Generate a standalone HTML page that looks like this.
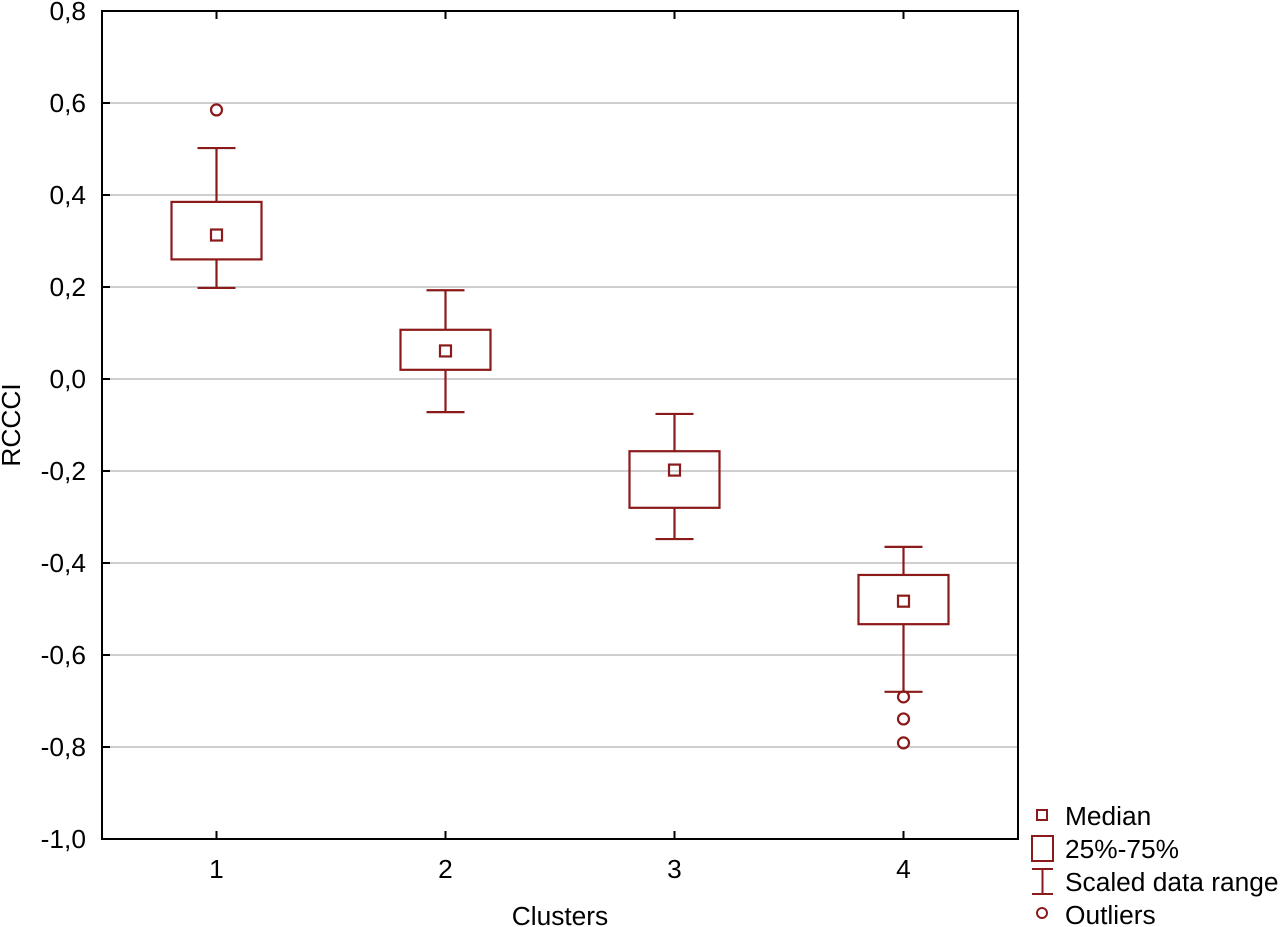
<!DOCTYPE html>
<html><head><meta charset="utf-8"><style>
body{margin:0;background:#fff;}
svg{display:block;font-family:"Liberation Sans",Arial,sans-serif;}
</style></head><body>
<svg id="c" width="1280" height="927" viewBox="0 0 1280 927"></svg>
<script>
const categories=["1","2","3","4"];
const maxVals=[0.502,0.193,-0.076,-0.365];
const q3Vals=[0.385,0.107,-0.157,-0.426];
const medians=[0.313,0.061,-0.198,-0.483];
const q1Vals=[0.26,0.02,-0.28,-0.533];
const minVals=[0.198,-0.072,-0.348,-0.68];
const outliers=[[0.585],[],[],[-0.691,-0.739,-0.791]];
const yTicks=[0.8,0.6,0.4,0.2,0.0,-0.2,-0.4,-0.6,-0.8,-1.0];
const yTickLabels=["0,8","0,6","0,4","0,2","0,0","-0,2","-0,4","-0,6","-0,8","-1,0"];

const L=102,R=1018,T=11,B=839,C="#8b1a1a",FS=26.3;
const ns="http://www.w3.org/2000/svg",svg=document.getElementById('c');
const y=v=>T+(0.8-v)/1.8*(B-T);
const x=i=>L+(i+0.5)*(R-L)/categories.length;
function el(t,a,p){const e=document.createElementNS(ns,t);for(const k in a)e.setAttribute(k,a[k]);(p||svg).appendChild(e);return e;}
yTicks.forEach((v,i)=>{
  if(v<0.8&&v>-1.0){const g=el('line',{x1:L,x2:R,y1:y(v),y2:y(v),stroke:'#cfcfcf','stroke-width':2});
  
  }
  const t=el('line',{x1:L,x2:L+8,y1:y(v),y2:y(v),stroke:'#000','stroke-width':2});
  
  
  const tx=el('text',{x:L-16,y:y(v)+9,'text-anchor':'end','font-size':FS});
  tx.textContent=yTickLabels[i];
  
  
});
categories.forEach((c,i)=>{
  [[B,B-8],[T,T+8]].forEach(p=>{const t=el('line',{x1:x(i),x2:x(i),y1:p[0],y2:p[1],stroke:'#000','stroke-width':2});
  
  });
  const tx=el('text',{x:x(i),y:B+39,'text-anchor':'middle','font-size':FS});
  tx.textContent=c;
  
  
  const g=el('g',{stroke:C,'stroke-width':2.2,fill:'none'});
  
  
  el('line',{x1:x(i),x2:x(i),y1:y(maxVals[i]),y2:y(q3Vals[i])},g);
  el('line',{x1:x(i),x2:x(i),y1:y(q1Vals[i]),y2:y(minVals[i])},g);
  el('line',{x1:x(i)-19,x2:x(i)+19,y1:y(maxVals[i]),y2:y(maxVals[i])},g);
  el('line',{x1:x(i)-19,x2:x(i)+19,y1:y(minVals[i]),y2:y(minVals[i])},g);
  el('rect',{x:x(i)-45,y:y(q3Vals[i]),width:90,height:y(q1Vals[i])-y(q3Vals[i])},g);
  el('rect',{x:x(i)-5.5,y:y(medians[i])-5.5,width:11,height:11},g);
  outliers[i].forEach(o=>{const ci=el('circle',{cx:x(i),cy:y(o),r:5.5},g);
  
  });
});
const fr=el('rect',{x:L,y:T,width:R-L,height:B-T,fill:'none',stroke:'#000','stroke-width':2});


const xt=el('text',{x:560,y:925,'text-anchor':'middle','font-size':FS});xt.textContent='Clusters';


const yt=el('text',{x:0,y:0,'text-anchor':'middle','font-size':FS,transform:'translate(20,425) rotate(-90)'});yt.textContent='RCCCI';


const lg=el('g',{});


const ls=el('g',{stroke:C,'stroke-width':2,fill:'none'},lg);
el('rect',{x:1037,y:810,width:10,height:10},ls);
el('rect',{x:1032,y:836,width:21,height:25},ls);
el('line',{x1:1032,x2:1053,y1:869,y2:869},ls);
el('line',{x1:1032,x2:1053,y1:894,y2:894},ls);
el('line',{x1:1042.5,x2:1042.5,y1:869,y2:894},ls);
el('circle',{cx:1042,cy:913,r:5},ls);
[["Median",825],["25%-75%",858],["Scaled data range",891],["Outliers",924]].forEach(a=>{
  const t=el('text',{x:1065,y:a[1],'font-size':FS},lg);t.textContent=a[0];
  
  
});
</script>
</body></html>
